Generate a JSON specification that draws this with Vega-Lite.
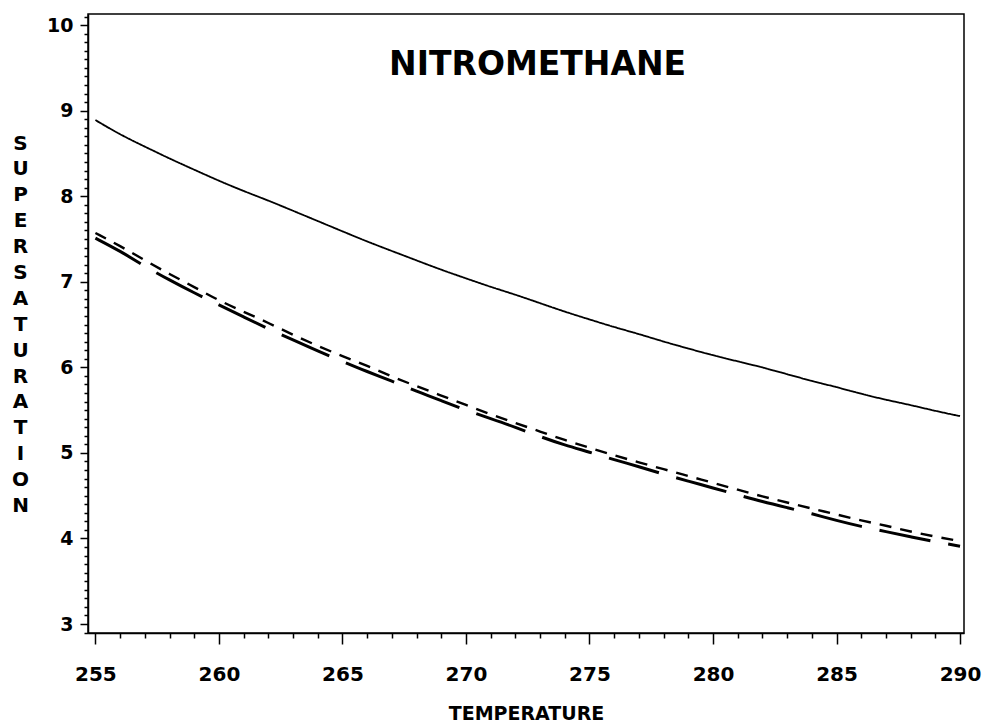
{
  "$schema": "https://vega.github.io/schema/vega-lite/v6.json",
  "autosize": {"type": "none"},
  "width": 876,
  "height": 619,
  "padding": {"left": 88, "top": 14, "right": 20, "bottom": 90},
  "background": "white",
  "config": {
    "view": {"stroke": "black", "strokeWidth": 1.5},
    "font": "DejaVu Sans"
  },
  "encoding": {
    "x": {
      "field": "T", "type": "quantitative",
      "scale": {"domain": [254.7, 290.16], "nice": false, "zero": false},
      "axis": {
        "title": "TEMPERATURE",
        "format": "d",
        "values": [255,255.5,256,256.5,257,257.5,258,258.5,259,259.5,260,260.5,261,261.5,262,262.5,263,263.5,264,264.5,265,265.5,266,266.5,267,267.5,268,268.5,269,269.5,270,270.5,271,271.5,272,272.5,273,273.5,274,274.5,275,275.5,276,276.5,277,277.5,278,278.5,279,279.5,280,280.5,281,281.5,282,282.5,283,283.5,284,284.5,285,285.5,286,286.5,287,287.5,288,288.5,289,289.5,290],
        "labelExpr": "datum.value % 5 === 0 ? datum.label : ''",
        "tickSize": {"condition": {"test": "datum.value % 5 === 0", "value": 11}, "value": 5},
        "tickColor": "black", "tickWidth": 1.5,
        "domainColor": "black", "domainWidth": 1.5,
        "grid": false,
        "labelFont": "DejaVu Sans", "labelFontWeight": "bold", "labelFontSize": 20, "labelColor": "black",
        "labelPadding": 20, "labelFlush": false, "labelOverlap": false,
        "titleFont": "DejaVu Sans", "titleFontWeight": "bold", "titleFontSize": 19, "titleColor": "black",
        "titlePadding": 20
      }
    },
    "y": {
      "field": "S", "type": "quantitative",
      "scale": {"domain": [2.895, 10.13], "nice": false, "zero": false},
      "axis": {
        "title": ["S","U","P","E","R","S","A","T","U","R","A","T","I","O","N"],
        "values": [2.9,3,3.1,3.2,3.3,3.4,3.5,3.6,3.7,3.8,3.9,4,4.1,4.2,4.3,4.4,4.5,4.6,4.7,4.8,4.9,5,5.1,5.2,5.3,5.4,5.5,5.6,5.7,5.8,5.9,6,6.1,6.2,6.3,6.4,6.5,6.6,6.7,6.8,6.9,7,7.1,7.2,7.3,7.4,7.5,7.6,7.7,7.8,7.9,8,8.1,8.2,8.3,8.4,8.5,8.6,8.7,8.8,8.9,9,9.1,9.2,9.3,9.4,9.5,9.6,9.7,9.8,9.9,10,10.1],
        "labelExpr": "datum.value % 1 === 0 ? format(datum.value, 'd') : ''",
        "tickSize": {"condition": {"test": "datum.value % 1 === 0", "value": 8}, "value": 4},
        "tickColor": "black", "tickWidth": 1.5,
        "domainColor": "black", "domainWidth": 1.5,
        "grid": false,
        "labelFont": "DejaVu Sans", "labelFontWeight": "bold", "labelFontSize": 19, "labelColor": "black",
        "labelPadding": 7, "labelOverlap": false, "labelFlush": false,
        "titleFont": "DejaVu Sans", "titleFontWeight": "bold", "titleFontSize": 20, "titleColor": "black",
        "titleAngle": 0, "titleAlign": "center", "titleBaseline": "middle",
        "titleLineHeight": 25.9, "titleX": -68, "titleY": 129
      }
    }
  },
  "layer": [
    {
      "data": {"values": [
        {"T":255,"S":8.89,"series":"solid"},{"T":256,"S":8.72,"series":"solid"},{"T":257,"S":8.58,"series":"solid"},{"T":258,"S":8.44,"series":"solid"},{"T":259,"S":8.31,"series":"solid"},{"T":260,"S":8.18,"series":"solid"},{"T":261,"S":8.06,"series":"solid"},{"T":262,"S":7.95,"series":"solid"},{"T":263,"S":7.83,"series":"solid"},{"T":264,"S":7.71,"series":"solid"},{"T":265,"S":7.59,"series":"solid"},{"T":266,"S":7.47,"series":"solid"},{"T":267,"S":7.36,"series":"solid"},{"T":268,"S":7.25,"series":"solid"},{"T":269,"S":7.14,"series":"solid"},{"T":270,"S":7.04,"series":"solid"},{"T":271,"S":6.94,"series":"solid"},{"T":272,"S":6.85,"series":"solid"},{"T":273,"S":6.75,"series":"solid"},{"T":274,"S":6.65,"series":"solid"},{"T":275,"S":6.56,"series":"solid"},{"T":276,"S":6.47,"series":"solid"},{"T":277,"S":6.39,"series":"solid"},{"T":278,"S":6.3,"series":"solid"},{"T":279,"S":6.22,"series":"solid"},{"T":280,"S":6.14,"series":"solid"},{"T":281,"S":6.07,"series":"solid"},{"T":282,"S":6.0,"series":"solid"},{"T":283,"S":5.92,"series":"solid"},{"T":284,"S":5.84,"series":"solid"},{"T":285,"S":5.77,"series":"solid"},{"T":286,"S":5.69,"series":"solid"},{"T":287,"S":5.62,"series":"solid"},{"T":288,"S":5.56,"series":"solid"},{"T":289,"S":5.49,"series":"solid"},{"T":290,"S":5.43,"series":"solid"},
        {"T":255,"S":7.57,"series":"short"},{"T":256,"S":7.42,"series":"short"},{"T":257,"S":7.25,"series":"short"},{"T":258,"S":7.09,"series":"short"},{"T":259,"S":6.94,"series":"short"},{"T":260,"S":6.78,"series":"short"},{"T":261,"S":6.65,"series":"short"},{"T":262,"S":6.52,"series":"short"},{"T":263,"S":6.38,"series":"short"},{"T":264,"S":6.25,"series":"short"},{"T":265,"S":6.13,"series":"short"},{"T":266,"S":6.02,"series":"short"},{"T":267,"S":5.89,"series":"short"},{"T":268,"S":5.78,"series":"short"},{"T":269,"S":5.67,"series":"short"},{"T":270,"S":5.56,"series":"short"},{"T":271,"S":5.45,"series":"short"},{"T":272,"S":5.35,"series":"short"},{"T":273,"S":5.25,"series":"short"},{"T":274,"S":5.15,"series":"short"},{"T":275,"S":5.06,"series":"short"},{"T":276,"S":4.97,"series":"short"},{"T":277,"S":4.89,"series":"short"},{"T":278,"S":4.81,"series":"short"},{"T":279,"S":4.73,"series":"short"},{"T":280,"S":4.65,"series":"short"},{"T":281,"S":4.57,"series":"short"},{"T":282,"S":4.49,"series":"short"},{"T":283,"S":4.42,"series":"short"},{"T":284,"S":4.35,"series":"short"},{"T":285,"S":4.28,"series":"short"},{"T":286,"S":4.21,"series":"short"},{"T":287,"S":4.15,"series":"short"},{"T":288,"S":4.08,"series":"short"},{"T":289,"S":4.02,"series":"short"},{"T":290,"S":3.97,"series":"short"},
        {"T":255,"S":7.51,"series":"long"},{"T":256,"S":7.36,"series":"long"},{"T":257,"S":7.18,"series":"long"},{"T":258,"S":7.02,"series":"long"},{"T":259,"S":6.87,"series":"long"},{"T":260,"S":6.73,"series":"long"},{"T":261,"S":6.59,"series":"long"},{"T":262,"S":6.45,"series":"long"},{"T":263,"S":6.32,"series":"long"},{"T":264,"S":6.19,"series":"long"},{"T":265,"S":6.07,"series":"long"},{"T":266,"S":5.95,"series":"long"},{"T":267,"S":5.84,"series":"long"},{"T":268,"S":5.72,"series":"long"},{"T":269,"S":5.61,"series":"long"},{"T":270,"S":5.5,"series":"long"},{"T":271,"S":5.4,"series":"long"},{"T":272,"S":5.3,"series":"long"},{"T":273,"S":5.19,"series":"long"},{"T":274,"S":5.09,"series":"long"},{"T":275,"S":5.01,"series":"long"},{"T":276,"S":4.92,"series":"long"},{"T":277,"S":4.84,"series":"long"},{"T":278,"S":4.75,"series":"long"},{"T":279,"S":4.67,"series":"long"},{"T":280,"S":4.59,"series":"long"},{"T":281,"S":4.51,"series":"long"},{"T":282,"S":4.43,"series":"long"},{"T":283,"S":4.36,"series":"long"},{"T":284,"S":4.29,"series":"long"},{"T":285,"S":4.21,"series":"long"},{"T":286,"S":4.14,"series":"long"},{"T":287,"S":4.08,"series":"long"},{"T":288,"S":4.02,"series":"long"},{"T":289,"S":3.96,"series":"long"},{"T":290,"S":3.91,"series":"long"}
      ]},
      "mark": {"type": "line", "color": "black", "interpolate": "basis"},
      "encoding": {
        "detail": {"field": "series", "type": "nominal"},
        "strokeDash": {
          "field": "series", "type": "nominal",
          "scale": {"domain": ["solid", "short", "long"], "range": [[1, 0], [12, 9], [52, 18]]},
          "legend": null
        },
        "strokeWidth": {
          "field": "series", "type": "nominal",
          "scale": {"domain": ["solid", "short", "long"], "range": [1.8, 3, 1.8]},
          "legend": null
        }
      }
    },
    {
      "data": {"values": [{"T": 272.9, "S": 9.416, "label": "NITROMETHANE"}]},
      "mark": {"type": "text", "font": "DejaVu Sans", "fontWeight": "bold", "fontSize": 33, "align": "center", "baseline": "alphabetic", "color": "black"},
      "encoding": {
        "text": {"field": "label", "type": "nominal"}
      }
    }
  ]
}
